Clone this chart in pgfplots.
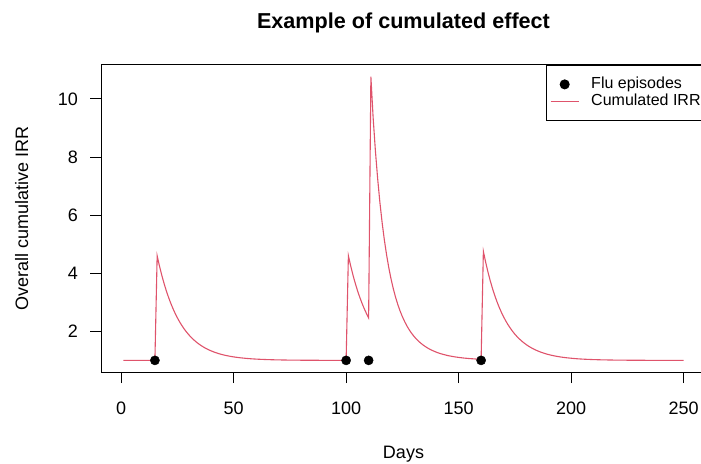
\documentclass[border=0pt]{standalone}
\usepackage{pgfplots}
\pgfplotsset{compat=1.18}
\usepackage{fontspec}
\setmainfont{Liberation Sans}
\definecolor{rred}{HTML}{DF536B}
\pgfplotsset{
  dotleg/.style={legend image code/.code={\draw[mark repeat=2,mark phase=2,##1] plot coordinates {(0pt,0pt) (14pt,0pt) (28pt,0pt)};}},
  lineleg/.style={legend image code/.code={\draw[##1] (0pt,0pt) -- (28pt,0pt);}},
}
\begin{document}
\begin{tikzpicture}
\useasboundingbox (0pt,0pt) rectangle (701pt,463pt);
\begin{axis}[
  at={(101pt,91pt)}, anchor=south west,
  scale only axis, width=605pt, height=307pt,
  xmin=-8.96, xmax=259.96, ymin=0.60, ymax=11.17,
  axis line style={line width=1pt},
  tick style={line width=1pt, black},
  tick align=outside, major tick length=11pt,
  xtick={0,50,100,150,200,250}, ytick={2,4,6,8,10},
  xtick pos=bottom, ytick pos=left,
  /pgf/number format/assume math mode=true,
  tick label style={font=\fontsize{18}{21}\selectfont},
  xticklabel style={anchor=base, yshift=-31pt, inner sep=0pt},
  yticklabel style={anchor=east, xshift=-12pt, inner sep=0pt},
  xlabel={Days}, ylabel={Overall cumulative IRR},
  label style={font=\fontsize{18}{21}\selectfont},
  xlabel style={at={(axis description cs:0.5,0)}, anchor=base, yshift=-86pt, inner sep=0pt},
  ylabel style={at={(axis description cs:-0.131,0.5)}, anchor=center, inner sep=0pt},
  title={Example of cumulated effect},
  title style={font=\bfseries\fontsize{21.6}{24}\selectfont, at={(axis description cs:0.5,1)}, anchor=base, yshift=30pt, inner sep=0pt},
  legend style={at={(rel axis cs:1,1)}, anchor=north east, draw=black, line width=0.8pt,
    font=\fontsize{16}{18}\selectfont, inner xsep=4pt, inner ysep=10.5pt,
    nodes={inner sep=1pt, text height=11.5pt, text depth=3.5pt}, row sep=0.5pt, column sep=11pt},
  legend cell align=left,
]
\addlegendimage{only marks, mark=*, mark size=4.6pt, black, dotleg}
\addlegendentry{Flu episodes}
\addplot[rred, line width=1.1pt, mark=none, lineleg] coordinates {
(1,1) (5,1) (10,1) (15,1) (16,4.600) (17,4.257) (18,3.947) (19,3.667) (20,3.413)
(21,3.184) (22,2.976) (23,2.788) (24,2.618) (25,2.464) (26,2.324) (27,2.198) (28,2.084)
(29,1.981) (30,1.888) (31,1.803) (32,1.727) (33,1.658) (34,1.595) (35,1.538) (36,1.487)
(37,1.441) (38,1.399) (39,1.361) (40,1.327) (41,1.296) (42,1.267) (43,1.242) (44,1.219)
(45,1.198) (46,1.179) (47,1.162) (48,1.147) (49,1.133) (50,1.120) (51,1.109) (52,1.098)
(53,1.089) (54,1.081) (55,1.073) (56,1.066) (57,1.060) (58,1.054) (59,1.049) (60,1.044)
(61,1.040) (63,1.033) (65,1.027) (67,1.022) (69,1.018) (71,1.015) (73,1.012) (75,1.010)
(80,1.006) (85,1.004) (90,1.002) (95,1.001) (100,1.001)
(101,4.603) (102,4.260) (103,3.949) (104,3.669) (105,3.415) (106,3.186) (107,2.978)
(108,2.789) (109,2.619) (110,2.465) (111,10.77) (112,9.357) (113,8.226) (114,7.264)
(115,6.444) (116,5.741) (117,5.140) (118,4.623) (119,4.176) (120,3.790) (121,3.456)
(122,3.167) (123,2.916) (124,2.696) (125,2.505) (126,2.337) (127,2.188) (128,2.059)
(129,1.944) (130,1.843) (131,1.753) (132,1.674) (133,1.605) (134,1.542) (135,1.486)
(136,1.437) (137,1.391) (138,1.353) (139,1.318) (140,1.285) (141,1.257) (142,1.232)
(143,1.209) (144,1.189) (145,1.169) (146,1.153) (148,1.125) (150,1.102) (152,1.083)
(154,1.068) (156,1.056) (158,1.045) (160,1.037)
(161,4.754) (162,4.386) (163,4.054) (164,3.757) (165,3.489) (166,3.248) (167,3.030)
(168,2.834) (169,2.657) (170,2.497) (171,2.352) (172,2.222) (173,2.105) (174,1.999)
(175,1.903) (176,1.816) (177,1.739) (178,1.668) (179,1.604) (180,1.546) (181,1.494)
(182,1.447) (183,1.404) (184,1.365) (185,1.331) (186,1.300) (187,1.270) (188,1.245)
(189,1.221) (190,1.200) (191,1.181) (192,1.164) (193,1.148) (194,1.134) (195,1.121)
(196,1.110) (197,1.099) (198,1.090) (199,1.082) (200,1.074) (201,1.067) (202,1.060)
(203,1.054) (204,1.049) (205,1.044) (206,1.040) (208,1.033) (210,1.027) (212,1.022)
(214,1.018) (216,1.015) (218,1.012) (220,1.010) (225,1.006) (230,1.004) (235,1.002)
(240,1.001) (245,1.001) (250,1.000)
};
\addlegendentry{Cumulated IRR}
\addplot[only marks, mark=*, mark size=4.6pt, black, forget plot] coordinates {
(15,1) (100,1) (110,1) (160,1)
};
\end{axis}
\end{tikzpicture}
\end{document}
